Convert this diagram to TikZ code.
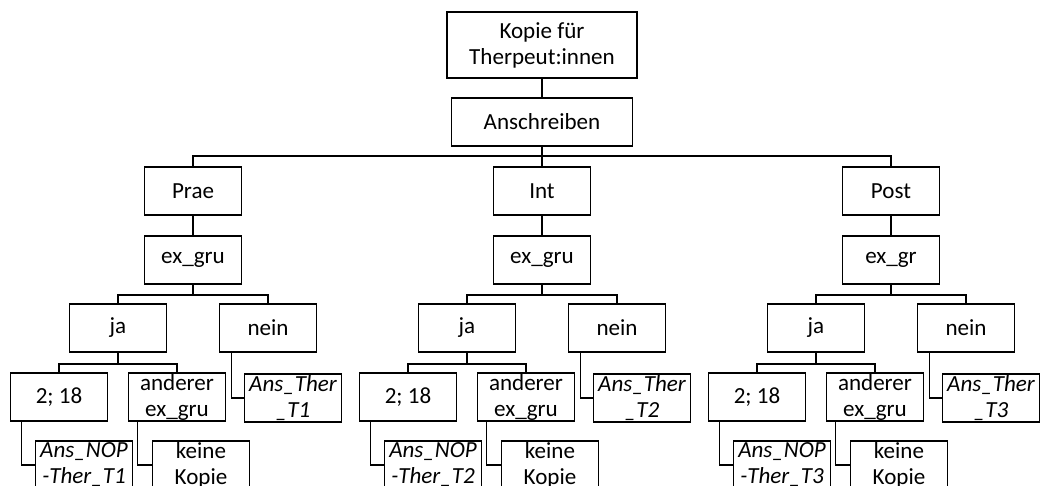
\documentclass[tikz,border=0pt]{standalone}
\usepackage{fontspec}
\setmainfont{Carlito}
\usepackage{tikz}
\usetikzlibrary{positioning}
\newcommand{\boxfont}{\fontsize{16.4}{18.5}\selectfont}
\tikzset{
  cell/.style={
    rectangle, draw=black, line width=1.4pt, fill=white,
    minimum width=2.425cm, minimum height=1.2cm,
    inner xsep=1pt, inner ysep=0pt, outer sep=0pt,
    align=center, font=\boxfont
  },
  leaf/.style={cell, font=\boxfont\itshape},
  link/.style={draw=black, line width=1.4pt}
}

\begin{document}
\begin{tikzpicture}[node distance=0.525cm]
  \clip (0,0) rectangle (26,-12.15);
  \node[cell, minimum width=4.75cm, minimum height=1.65cm] at (13.55,-1.125) (kopie) {Kopie für\\Therpeut:innen};
  \node[cell, minimum width=4.525cm, below=0.5cm of kopie] (ansch) {Anschreiben};
  \node[cell, below=of ansch] (int) {Int};
  \node[cell, left=6.3cm of int] (prae) {Prae};
  \node[cell, right=6.3cm of int] (post) {Post};

  % Prae
  \node[cell, below=of prae] (exprae) {ex\_gru};
  \node[cell, below left=0.5cm and -0.55cm of exprae] (japrae) {ja};
  \node[cell, below right=0.5cm and -0.55cm of exprae] (neinprae) {nein};
  \node[cell, below left=0.525cm and -0.95cm of japrae] (zweiprae) {2; 18};
  \node[cell, below right=0.525cm and -0.95cm of japrae] (andprae) {anderer\\ex\_gru};
  \node[leaf, below right=0.55cm and 0.625cm of neinprae.south west] (therprae) {Ans\_Ther\\\_T1};
  \node[leaf, below right=0.5cm and 0.625cm of zweiprae.south west] (nopprae) {Ans\_NOP\\-Ther\_T1};
  \node[cell, below right=0.5cm and 0.6cm of andprae.south west] (keineprae) {keine\\Kopie};

  % Int
  \node[cell, below=of int] (exint) {ex\_gru};
  \node[cell, below left=0.5cm and -0.55cm of exint] (jaint) {ja};
  \node[cell, below right=0.5cm and -0.55cm of exint] (neinint) {nein};
  \node[cell, below left=0.525cm and -0.95cm of jaint] (zweiint) {2; 18};
  \node[cell, below right=0.525cm and -0.95cm of jaint] (andint) {anderer\\ex\_gru};
  \node[leaf, below right=0.55cm and 0.625cm of neinint.south west] (therint) {Ans\_Ther\\\_T2};
  \node[leaf, below right=0.5cm and 0.625cm of zweiint.south west] (nopint) {Ans\_NOP\\-Ther\_T2};
  \node[cell, below right=0.5cm and 0.6cm of andint.south west] (keineint) {keine\\Kopie};

  % Post
  \node[cell, below=of post] (expost) {ex\_gr};
  \node[cell, below left=0.5cm and -0.55cm of expost] (japost) {ja};
  \node[cell, below right=0.5cm and -0.55cm of expost] (neinpost) {nein};
  \node[cell, below left=0.525cm and -0.95cm of japost] (zweipost) {2; 18};
  \node[cell, below right=0.525cm and -0.95cm of japost] (andpost) {anderer\\ex\_gru};
  \node[leaf, below right=0.55cm and 0.625cm of neinpost.south west] (therpost) {Ans\_Ther\\\_T3};
  \node[leaf, below right=0.5cm and 0.625cm of zweipost.south west] (noppost) {Ans\_NOP\\-Ther\_T3};
  \node[cell, below right=0.5cm and 0.6cm of andpost.south west] (keinepost) {keine\\Kopie};

  % top connectors
  \draw[link] (kopie) -- (ansch);
  \draw[link] (ansch.south) -- ++(0,-0.25) -| (prae.north);
  \draw[link] (ansch.south) -- ++(0,-0.25) -| (post.north);
  \draw[link] (ansch) -- (int);

  % Prae connectors
  \draw[link] (prae) -- (exprae);
  \draw[link] (exprae.south) -- ++(0,-0.275) -| (japrae.north);
  \draw[link] (exprae.south) -- ++(0,-0.275) -| (neinprae.north);
  \draw[link] (japrae.south) -- ++(0,-0.3) -| (zweiprae.north);
  \draw[link] (japrae.south) -- ++(0,-0.3) -| (andprae.north);
  \draw[link] ([xshift=0.3cm]neinprae.south west) |- (therprae.west);
  \draw[link] ([xshift=0.275cm]zweiprae.south west) |- (nopprae.west);
  \draw[link] ([xshift=0.225cm]andprae.south west) |- (keineprae.west);

  % Int connectors
  \draw[link] (int) -- (exint);
  \draw[link] (exint.south) -- ++(0,-0.275) -| (jaint.north);
  \draw[link] (exint.south) -- ++(0,-0.275) -| (neinint.north);
  \draw[link] (jaint.south) -- ++(0,-0.3) -| (zweiint.north);
  \draw[link] (jaint.south) -- ++(0,-0.3) -| (andint.north);
  \draw[link] ([xshift=0.3cm]neinint.south west) |- (therint.west);
  \draw[link] ([xshift=0.275cm]zweiint.south west) |- (nopint.west);
  \draw[link] ([xshift=0.225cm]andint.south west) |- (keineint.west);

  % Post connectors
  \draw[link] (post) -- (expost);
  \draw[link] (expost.south) -- ++(0,-0.275) -| (japost.north);
  \draw[link] (expost.south) -- ++(0,-0.275) -| (neinpost.north);
  \draw[link] (japost.south) -- ++(0,-0.3) -| (zweipost.north);
  \draw[link] (japost.south) -- ++(0,-0.3) -| (andpost.north);
  \draw[link] ([xshift=0.3cm]neinpost.south west) |- (therpost.west);
  \draw[link] ([xshift=0.275cm]zweipost.south west) |- (noppost.west);
  \draw[link] ([xshift=0.225cm]andpost.south west) |- (keinepost.west);
\end{tikzpicture}
\end{document}
